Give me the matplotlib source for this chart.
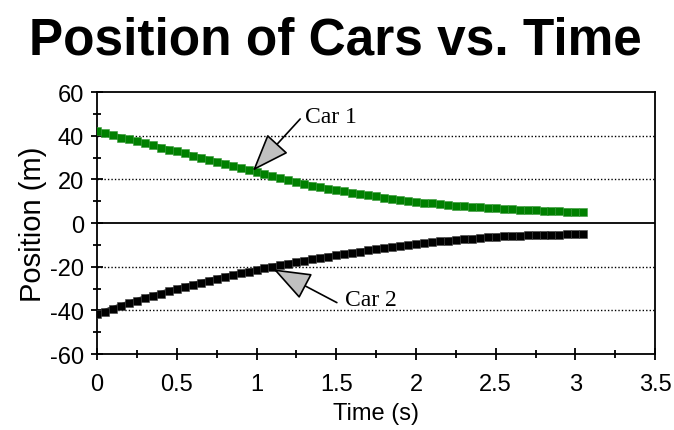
"""Position of two cars vs. time"""

import matplotlib
matplotlib.use("Agg")
import matplotlib.pyplot as plt
from matplotlib import font_manager
from matplotlib.ticker import MultipleLocator

# sample times (s)
time = [0.00, 0.05, 0.10, 0.15, 0.20, 0.25, 0.30, 0.35, 0.40, 0.45,
        0.50, 0.55, 0.60, 0.65, 0.70, 0.75, 0.80, 0.85, 0.90, 0.95,
        1.00, 1.05, 1.10, 1.15, 1.20, 1.25, 1.30, 1.35, 1.40, 1.45,
        1.50, 1.55, 1.60, 1.65, 1.70, 1.75, 1.80, 1.85, 1.90, 1.95,
        2.00, 2.05, 2.10, 2.15, 2.20, 2.25, 2.30, 2.35, 2.40, 2.45,
        2.50, 2.55, 2.60, 2.65, 2.70, 2.75, 2.80, 2.85, 2.90, 2.95,
        3.00, 3.05]

# positions (m)
car1 = [42.0, 41.1, 40.2, 39.2, 38.3, 37.4, 36.5, 35.6, 34.6, 33.7,
        32.8, 31.9, 30.9, 30.0, 29.0, 28.1, 27.1, 26.2, 25.2, 24.3,
        23.3, 22.4, 21.4, 20.5, 19.6, 18.8, 18.0, 17.2, 16.5, 15.8,
        15.1, 14.5, 13.9, 13.3, 12.7, 12.2, 11.7, 11.2, 10.7, 10.2,
        9.8, 9.4, 9.0, 8.6, 8.3, 8.0, 7.7, 7.4, 7.2, 6.9,
        6.7, 6.5, 6.3, 6.1, 6.0, 5.8, 5.7, 5.5, 5.4, 5.3,
        5.2, 5.1]

car2 = [-41.8, -40.5, -39.2, -38.0, -36.7, -35.5, -34.4, -33.3, -32.3, -31.2,
        -30.2, -29.2, -28.3, -27.3, -26.4, -25.5, -24.6, -23.8, -23.0, -22.2,
        -21.4, -20.6, -19.9, -19.2, -18.5, -17.8, -17.2, -16.5, -15.9, -15.3,
        -14.7, -14.1, -13.6, -13.0, -12.5, -12.0, -11.5, -11.0, -10.5, -10.0,
        -9.6, -9.2, -8.8, -8.4, -8.0, -7.7, -7.4, -7.1, -6.8, -6.5,
        -6.2, -6.0, -5.9, -5.7, -5.6, -5.5, -5.4, -5.3, -5.3, -5.2,
        -5.2, -5.2]

labels = ["Car 1", "Car 2"]

installed = {f.name for f in font_manager.fontManager.ttflist}
if "Liberation Sans Narrow" in installed:
    title_font, title_size = "Liberation Sans Narrow", 44
else:
    title_font, title_size = "Liberation Sans", 37

plt.rcParams["font.family"] = ["Liberation Sans", "DejaVu Sans"]
plt.rcParams["axes.unicode_minus"] = False

fig = plt.figure(figsize=(6.74, 4.31), dpi=100)
ax = fig.add_axes([0.144, 0.176, 0.828, 0.608])

ax.plot(time, car1, color="#008000", marker="s", ms=5.2, mec="#3c9a3c",
        mew=0.4, lw=4, zorder=3)
ax.plot(time, car2, color="black", marker="s", ms=5.2, mec="#444444",
        mew=0.4, lw=4, zorder=3)

ax.set_xlim(0, 3.5)
ax.set_ylim(-60, 60)
ax.xaxis.set_minor_locator(MultipleLocator(0.25))
ax.yaxis.set_major_locator(MultipleLocator(20))
ax.yaxis.set_minor_locator(MultipleLocator(10))
ax.set_xticks([0, 0.5, 1, 1.5, 2, 2.5, 3, 3.5])
ax.set_xticklabels(["0", "0.5", "1", "1.5", "2", "2.5", "3", "3.5"])

for y in [-40, -20, 20, 40]:
    ax.axhline(y, color="black", lw=1, ls=(0, (1, 1.5)), zorder=1)
ax.axhline(0, color="black", lw=1.3, zorder=2)

for s in ax.spines.values():
    s.set_linewidth(1.3)
ax.tick_params(which="major", direction="inout", length=9, width=1.3,
               labelsize=17, pad=5)
ax.tick_params(which="minor", direction="inout", length=6, width=1.3)
ax.tick_params(axis="x", which="major", pad=9)

ax.set_xlabel("Time (s)", fontsize=17, labelpad=5)
ax.set_ylabel("Position (m)", fontsize=21, labelpad=2)

fig.text(0.497, 0.905, "Position of Cars vs. Time", ha="center", va="center",
         fontsize=title_size, fontweight="bold", family=[title_font, "DejaVu Sans"])

arrow = dict(arrowstyle="-|>,head_length=1.2,head_width=0.45",
             fc="#c0c0c0", ec="black", lw=1.2, mutation_scale=20,
             shrinkA=0, shrinkB=0)
ax.annotate("", xy=(0.977, 24), xytext=(1.274, 47.7), arrowprops=arrow, zorder=4)
ax.annotate("", xy=(1.106, -21.1), xytext=(1.504, -36.4), arrowprops=arrow, zorder=4)
ax.text(1.305, 49, labels[0], fontsize=17, family="Liberation Serif",
        ha="left", va="center")
ax.text(1.556, -35, labels[1], fontsize=17, family="Liberation Serif",
        ha="left", va="center")

fig.savefig("out.png", dpi=100)
